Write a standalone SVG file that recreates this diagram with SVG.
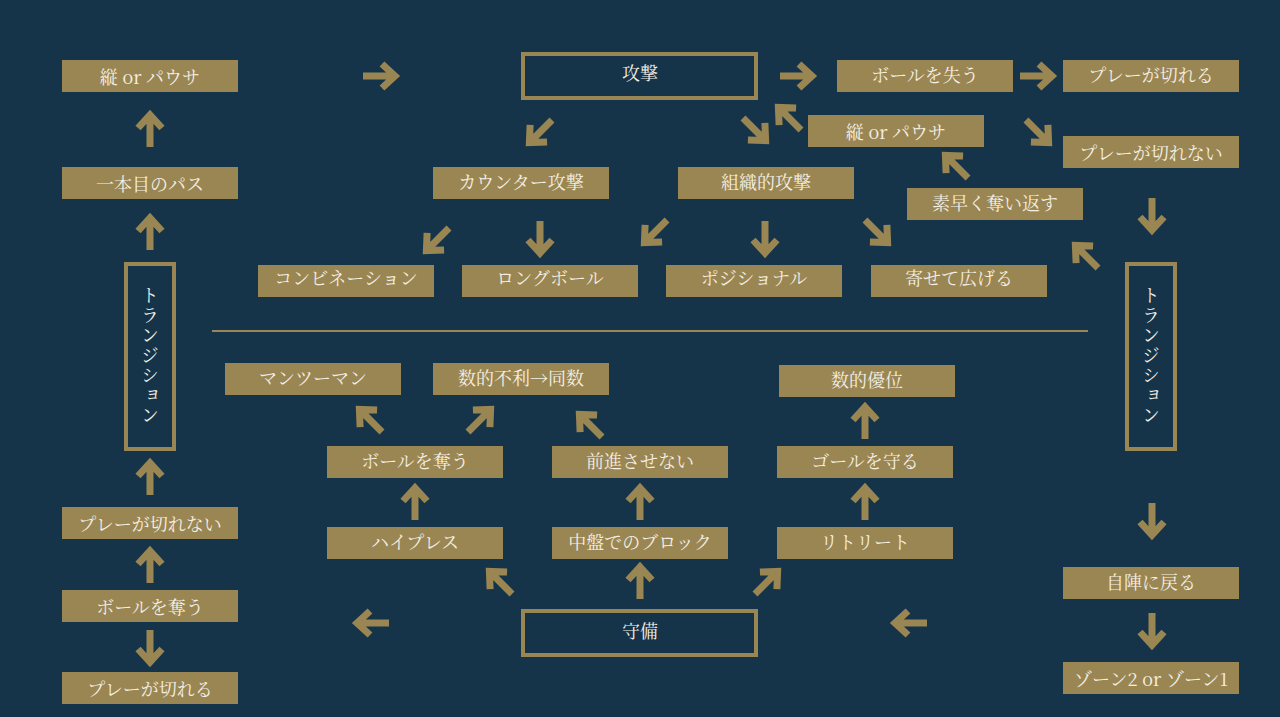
<svg xmlns="http://www.w3.org/2000/svg" xmlns:xlink="http://www.w3.org/1999/xlink" width="1280" height="717" viewBox="0 0 1280 717">
<style>
.b{fill:#9a8652}
.o{fill:#15344a;stroke:#9a8652;stroke-width:4}
text{font-family:"Noto Serif CJK JP","Noto Sans CJK JP",sans-serif;font-size:18px;fill:#f4efe4;text-anchor:middle;dominant-baseline:central}
.v{writing-mode:vertical-rl;letter-spacing:2px}
</style>
<defs>
<path id="a" d="M-17,0H13M2,-12L15,0L2,12" fill="none" stroke="#9a8652" stroke-width="7"/>
</defs>
<rect width="1280" height="717" fill="#15344a"/>
<line x1="212" y1="331" x2="1088" y2="331" stroke="#9a8652" stroke-width="2"/>
<g id="n1"><rect class="b" x="62" y="60" width="176" height="32"/><text x="150" y="76">縦 or パウサ</text></g>
<g id="n2"><rect class="b" x="62" y="167" width="176" height="32"/><text x="150" y="183">一本目のパス</text></g>
<g id="n3"><rect class="o" x="126" y="264" width="48" height="185"/><text class="v" x="150" y="356">トランジション</text></g>
<g id="n4"><rect class="b" x="62" y="507" width="176" height="32"/><text x="150" y="523">プレーが切れない</text></g>
<g id="n5"><rect class="b" x="62" y="590" width="176" height="32"/><text x="150" y="606">ボールを奪う</text></g>
<g id="n6"><rect class="b" x="62" y="672" width="176" height="32"/><text x="150" y="688">プレーが切れる</text></g>
<g id="n7"><rect class="o" x="523" y="54" width="233" height="44"/><text x="640" y="72">攻撃</text></g>
<g id="n8"><rect class="b" x="837" y="60" width="176" height="32"/><text x="925" y="74">ボールを失う</text></g>
<g id="n9"><rect class="b" x="1063" y="60" width="176" height="32"/><text x="1151" y="74">プレーが切れる</text></g>
<g id="n10"><rect class="b" x="808" y="115" width="176" height="32"/><text x="896" y="131">縦 or パウサ</text></g>
<g id="n11"><rect class="b" x="1063" y="136" width="176" height="32"/><text x="1151" y="152">プレーが切れない</text></g>
<g id="n12"><rect class="b" x="433" y="167" width="176" height="32"/><text x="521" y="181">カウンター攻撃</text></g>
<g id="n13"><rect class="b" x="678" y="167" width="176" height="32"/><text x="766" y="181">組織的攻撃</text></g>
<g id="n14"><rect class="b" x="907" y="188" width="176" height="32"/><text x="995" y="202">素早く奪い返す</text></g>
<g id="n15"><rect class="b" x="258" y="265" width="176" height="32"/><text x="346" y="277">コンビネーション</text></g>
<g id="n16"><rect class="b" x="462" y="265" width="176" height="32"/><text x="550" y="277">ロングボール</text></g>
<g id="n17"><rect class="b" x="666" y="265" width="176" height="32"/><text x="754" y="277">ポジショナル</text></g>
<g id="n18"><rect class="b" x="871" y="265" width="176" height="32"/><text x="959" y="277">寄せて広げる</text></g>
<g id="n19"><rect class="o" x="1127" y="264" width="48" height="185"/><text class="v" x="1151" y="356">トランジション</text></g>
<g id="n20"><rect class="b" x="225" y="363" width="176" height="32"/><text x="313" y="377">マンツーマン</text></g>
<g id="n21"><rect class="b" x="433" y="363" width="176" height="32"/><text x="521" y="377">数的不利→同数</text></g>
<g id="n22"><rect class="b" x="779" y="365" width="176" height="32"/><text x="867" y="379">数的優位</text></g>
<g id="n23"><rect class="b" x="327" y="446" width="176" height="32"/><text x="415" y="460">ボールを奪う</text></g>
<g id="n24"><rect class="b" x="552" y="446" width="176" height="32"/><text x="640" y="460">前進させない</text></g>
<g id="n25"><rect class="b" x="777" y="446" width="176" height="32"/><text x="865" y="460">ゴールを守る</text></g>
<g id="n26"><rect class="b" x="327" y="527" width="176" height="32"/><text x="415" y="541">ハイプレス</text></g>
<g id="n27"><rect class="b" x="552" y="527" width="176" height="32"/><text x="640" y="541">中盤でのブロック</text></g>
<g id="n28"><rect class="b" x="777" y="527" width="176" height="32"/><text x="865" y="541">リトリート</text></g>
<g id="n29"><rect class="o" x="523" y="611" width="233" height="44"/><text x="640" y="630">守備</text></g>
<g id="n30"><rect class="b" x="1063" y="567" width="176" height="32"/><text x="1151" y="581">自陣に戻る</text></g>
<g id="n31"><rect class="b" x="1063" y="662" width="176" height="32"/><text x="1151" y="678">ゾーン2 or ゾーン1</text></g>
<g id="connectors">
<use href="#a" transform="translate(150,130) rotate(-90)"/>
<use href="#a" transform="translate(150,233) rotate(-90)"/>
<use href="#a" transform="translate(150,478) rotate(-90)"/>
<use href="#a" transform="translate(150,566) rotate(-90)"/>
<use href="#a" transform="translate(150,647) rotate(90)"/>
<use href="#a" transform="translate(380,76)"/>
<use href="#a" transform="translate(797,76)"/>
<use href="#a" transform="translate(1037,76)"/>
<use href="#a" transform="translate(540,132) rotate(135)"/>
<use href="#a" transform="translate(755,130) rotate(45)"/>
<use href="#a" transform="translate(789,118) rotate(-135)"/>
<use href="#a" transform="translate(1038,132) rotate(45)"/>
<use href="#a" transform="translate(956,166) rotate(-135)"/>
<use href="#a" transform="translate(1152,215) rotate(90)"/>
<use href="#a" transform="translate(1086,256) rotate(-135)"/>
<use href="#a" transform="translate(437,240) rotate(135)"/>
<use href="#a" transform="translate(540,238) rotate(90)"/>
<use href="#a" transform="translate(655,232) rotate(135)"/>
<use href="#a" transform="translate(765,238) rotate(90)"/>
<use href="#a" transform="translate(877,232) rotate(45)"/>
<use href="#a" transform="translate(370,420) rotate(-135)"/>
<use href="#a" transform="translate(480,420) rotate(-45)"/>
<use href="#a" transform="translate(590,425) rotate(-135)"/>
<use href="#a" transform="translate(865,422) rotate(-90)"/>
<use href="#a" transform="translate(415,503) rotate(-90)"/>
<use href="#a" transform="translate(640,503) rotate(-90)"/>
<use href="#a" transform="translate(865,503) rotate(-90)"/>
<use href="#a" transform="translate(500,582) rotate(-135)"/>
<use href="#a" transform="translate(640,582) rotate(-90)"/>
<use href="#a" transform="translate(767,582) rotate(-45)"/>
<use href="#a" transform="translate(372,623) rotate(180)"/>
<use href="#a" transform="translate(910,623) rotate(180)"/>
<use href="#a" transform="translate(1152,520) rotate(90)"/>
<use href="#a" transform="translate(1152,630) rotate(90)"/>
</g>
</svg>
